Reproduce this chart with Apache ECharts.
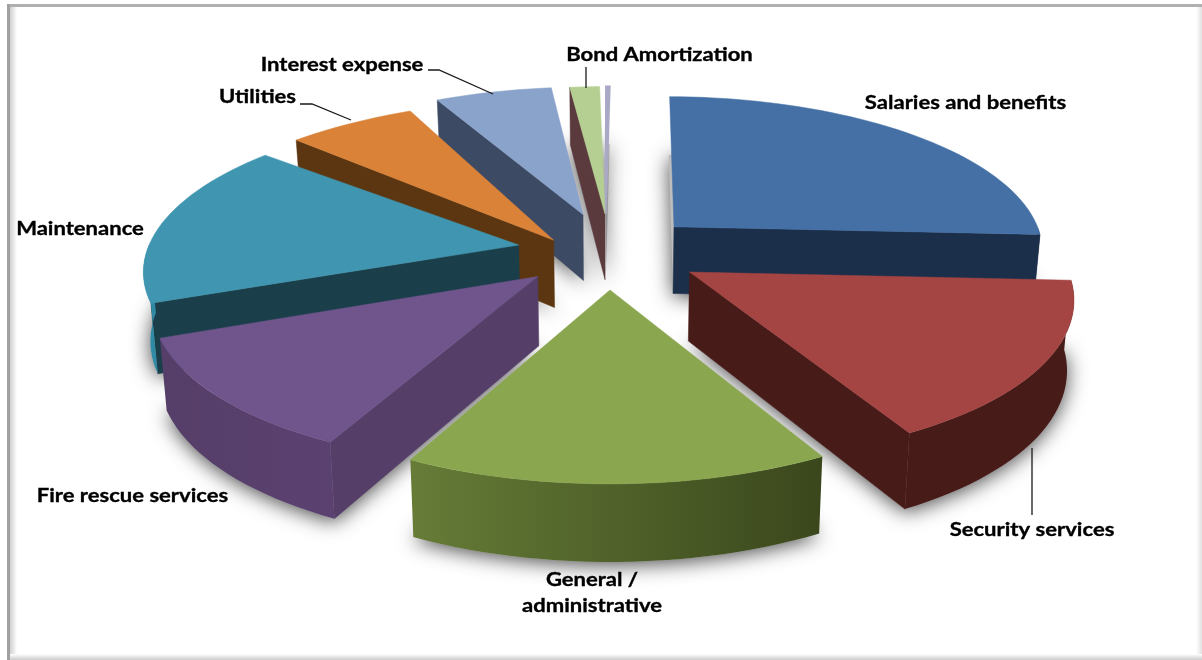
<!DOCTYPE html>
<html><head><meta charset="utf-8">
<style>html,body{margin:0;padding:0;background:#fff}#c{width:1202px;height:660px}</style>
<script src="https://cdn.jsdelivr.net/npm/echarts@6/dist/echarts.min.js"></script>
</head><body><div id="c"></div>
<script>
// --- data, clockwise from the top of the pie ---
const categories = ['Salaries and benefits','Security services','General /\nadministrative','Fire rescue services','Maintenance','Utilities','Interest expense','Bond Amortization',''];
const values = [25.6, 16.17, 15.44, 11.64, 16.9, 6.0, 5.9, 1.5, 0.18];

// --- styling ---
const topColors  = ['#4570a6','#a54543','#8aa64e','#6f558c','#4096b0','#d98238','#8aa3cb','#b5cf92','#a9a9c6'];
const sideColors = ['#1b2f4b','#471b18','#3a471c','#553e68','#1a3f4b','#5c3610','#3c4a64','#5a3a3c','#85859f'];
const arcFrom    = ['#1b2f4b','#471b18','#3a471c','#5b4170','#2f8aa5','#5c3610','#3c4a64','#5a3a3c','#85859f'];
const arcTo      = ['#1b2f4b','#471b18','#667c37','#553e68','#2f8aa5','#5c3610','#3c4a64','#5a3a3c','#85859f'];
// how far each slice is pulled out of the pie, its radius and its small turn (the source is distorted)
const pullU = [0.176,0.21,0,-0.19,-0.247,-0.153,-0.075,-0.014,-0.012];
const pullV = [-0.166,0.127,0.237,0.155,-0.045,-0.077,-0.25,-0.255,-0.255];
const radius = [1,1,1,1,1,1.07,1,1,1];
const turn   = [0,0,0,0,0,3,1,0.84,1.9];
const drawOrder  = [8,7,6,5,0,4,3,1,2];
const labelBox   = [[965.5,103],[1032,530],[592,593],[132.5,496],[80,229],[257.5,97],[342,65],[659.5,55],[0,0]];
const leaders    = [null,[[1032,448],[1032,515]],null,null,null,[[300,104],[312,104],[351,120]],[[428,70],[439,70],[493,94]],[[586,67],[586,88]],null];

// --- projection of the tilted pie ---
const CX=610, CY=252, F=372, K=155, P=0.14, H=68, START=0.6, DEG=3.6054;
const rad=d=>d*Math.PI/180;
let acc=START;
const spans=values.map((v,i)=>{const s=acc;acc+=v*DEG;return [s+turn[i],acc+turn[i]];});
function proj(i,theta,r,low){
  const t=rad(theta), R=r*radius[i];
  const u=pullU[i]+R*Math.sin(t), v=pullV[i]-R*Math.cos(t);
  const s=1/(1-P*v);
  const x=F*u*s*(low?0.985:1), y=K*v*s+(low?H*(1+0.12*v):0);
  return [CX+x,CY+y];
}
function arc(i,from,to,low){
  const out=[], n=Math.max(2,Math.ceil(Math.abs(to-from)/2));
  for(let j=0;j<=n;j++) out.push(proj(i,from+(to-from)*j/n,1,low));
  return out;
}
function slice(i){
  const [a,b]=spans[i], kids=[], thin=(b-a)<2;
  const poly=(pts,fill)=>kids.push({type:'polygon',shape:{points:pts},style:{fill,stroke:fill,lineWidth:thin?2:0.5}});
  const wall=t=>[proj(i,t,0,false),proj(i,t,1,false),proj(i,t,1,true),proj(i,t,0,true)];
  if(Math.sin(rad(a))<-0.002) poly(wall(a),sideColors[i]);
  if(Math.sin(rad(b))>0.02) poly(wall(b),sideColors[i]);
  const lo=Math.max(a,90), hi=Math.min(b,270);
  if(hi>lo){
    const pts=arc(i,lo,hi,false).concat(arc(i,hi,lo,true));
    const xs=pts.map(p=>p[0]);
    kids.push({type:'polygon',shape:{points:pts},style:{
      fill:{type:'linear',x:Math.min(...xs),y:0,x2:Math.max(...xs),y2:0,global:true,
            colorStops:[{offset:0,color:arcTo[i]},{offset:1,color:arcFrom[i]}]},lineWidth:0}});
  }
  poly([proj(i,a,0,false)].concat(arc(i,a,b,false)),topColors[i]);
  return kids;
}
const grad=(x,y,x2,y2,c0,c1)=>({type:'linear',x,y,x2,y2,colorStops:[{offset:0,color:c0},{offset:1,color:c1}]});
const frame=[
  {type:'rect',shape:{x:10,y:7,width:7,height:653},style:{fill:grad(0,0,1,0,'#cfcfcf','#ffffff')}},
  {type:'rect',shape:{x:1196,y:7,width:6,height:653},style:{fill:grad(0,0,1,0,'#ffffff','#e2e2e2')}},
  {type:'rect',shape:{x:10,y:654,width:1192,height:6},style:{fill:grad(0,0,0,1,'#ffffff','#cccccc')}},
  {type:'rect',shape:{x:7,y:4,width:1195,height:3},style:{fill:'#b0b0b0'}},
  {type:'rect',shape:{x:7,y:4,width:3,height:656},style:{fill:'#a0a0a0'}}
];
const chart=echarts.init(document.getElementById('c'),null,{renderer:'canvas'});
chart.setOption({
  animation:false,
  backgroundColor:'#fff',
  graphic:{elements:frame.map(f=>Object.assign({z:-1},f))},
  series:[
    {type:'custom',coordinateSystem:'none',silent:true,z:2,
     data:drawOrder.map(i=>({name:categories[i],value:[values[i],i]})),
     renderItem(p,api){
       const i=api.value(1),[a,b]=spans[i];
       const pts=[proj(i,a,0,true)].concat(arc(i,a,b,true));
       return {type:'polygon',shape:{points:pts},style:{fill:'#bdbdbd',shadowBlur:20,shadowColor:'rgba(0,0,0,0.7)',shadowOffsetY:3}};
     }},
    {type:'custom',coordinateSystem:'none',silent:true,z:3,
     data:drawOrder.map(i=>({name:categories[i],value:[values[i],i]})),
     renderItem(p,api){return {type:'group',children:slice(api.value(1))};}},
    {type:'custom',coordinateSystem:'none',silent:true,z:4,
     data:categories.map((c,i)=>({name:c,value:[values[i],i]})),
     renderItem(p,api){
       const i=api.value(1),kids=[];
       if(leaders[i]) kids.push({type:'polyline',shape:{points:leaders[i]},style:{fill:'none',stroke:'#1a1a1a',lineWidth:1.3}});
       if(categories[i]) kids.push({type:'text',x:labelBox[i][0],y:labelBox[i][1],scaleX:1.16,style:{text:categories[i],fill:'#000',
         stroke:'#000',lineWidth:0.35,font:'bold 19px Lato',align:'center',verticalAlign:'middle',lineHeight:26}});
       return {type:'group',children:kids};
     }}
  ]
});
</script></body></html>
